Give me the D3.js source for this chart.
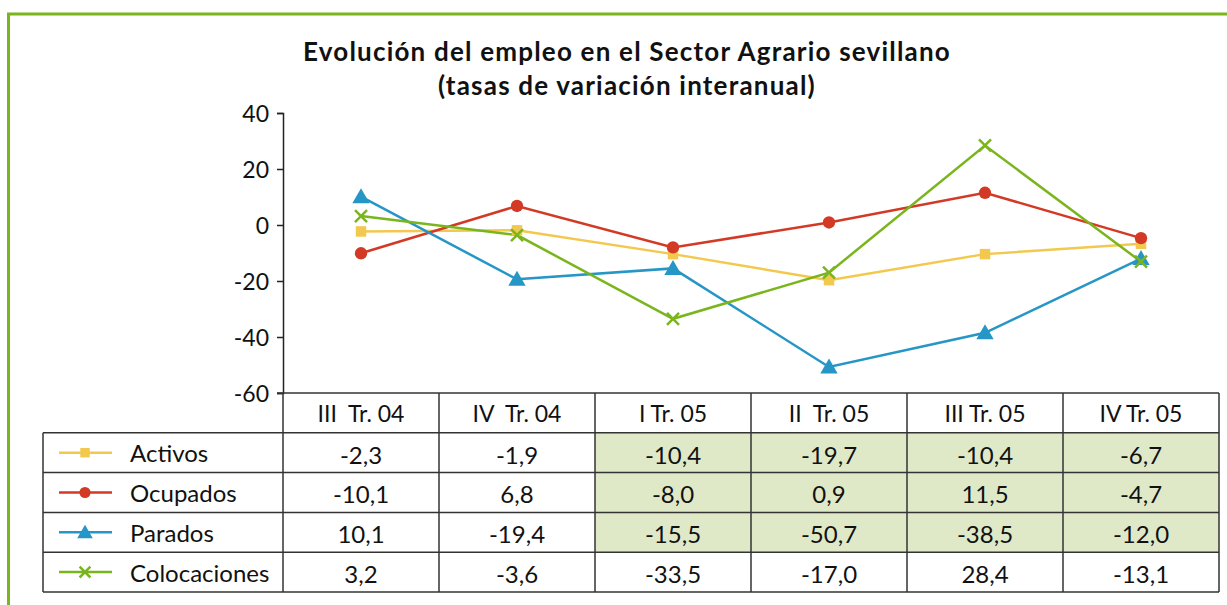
<!DOCTYPE html>
<html>
<head>
<meta charset="utf-8"/>
<title>Evolución del empleo en el Sector Agrario sevillano</title>
<style>
  body, html {margin:0; padding:0; background:#fff; overflow:hidden;}
  svg text {font-family: "Lato", "Open Sans", sans-serif; fill:#111;}
</style>
<script src="https://cdn.jsdelivr.net/npm/d3@7/dist/d3.min.js"></script>
</head>
<body>
<svg id="chart" width="1227" height="605"></svg>
<script>
// datos
var periodos = ["III  Tr. 04", "IV  Tr. 04", "I Tr. 05", "II  Tr. 05", "III Tr. 05", "IV Tr. 05"];
var activos = [-2.3, -1.9, -10.4, -19.7, -10.4, -6.7];
var ocupados = [-10.1, 6.8, -8.0, 0.9, 11.5, -4.7];
var parados = [10.1, -19.4, -15.5, -50.7, -38.5, -12.0];
var colocaciones = [3.2, -3.6, -33.5, -17.0, 28.4, -13.1];
var yTicks = [40, 20, 0, -20, -40, -60];

var series = [
  {name: "Activos", values: activos, color: "#f2c94e", symbol: d3.symbolSquare, size: 110},
  {name: "Ocupados", values: ocupados, color: "#d33a25", symbol: d3.symbolCircle, size: 120},
  {name: "Parados", values: parados, color: "#2596c6", symbol: d3.symbolTriangle, size: 130},
  {name: "Colocaciones", values: colocaciones, color: "#7ab51d", symbol: "x", size: 0}
];
var verdes = [2, 3, 4, 5]; // columnas sombreadas (filas 0..2)

var svg = d3.select("#chart");

// marco verde
svg.append("path")
  .attr("d", "M8.5,620 V14 H1240")
  .attr("fill", "none").attr("stroke", "#7ab51d").attr("stroke-width", 3);

// titulo
svg.append("text").attr("x", 627).attr("y", 61).attr("text-anchor", "middle")
  .attr("font-size", 26).attr("font-weight", "bold").attr("letter-spacing", 1.2)
  .text("Evolución del empleo en el Sector Agrario sevillano");
svg.append("text").attr("x", 627).attr("y", 95).attr("text-anchor", "middle")
  .attr("font-size", 26).attr("font-weight", "bold").attr("letter-spacing", 1.2)
  .text("(tasas de variación interanual)");

var mLeft = 283, mRight = 1219, mTop = 113, mBottom = 393;
var x = d3.scaleBand().domain(periodos).range([mLeft, mRight]);
var y = d3.scaleLinear().domain([-60, 40]).range([mBottom, mTop]);

// eje y
var yAxis = svg.append("g").attr("transform", "translate(" + mLeft + ",0)")
  .call(d3.axisLeft(y).tickValues(yTicks).tickSize(6).tickPadding(8).tickFormat(function(d){ return d < 0 ? "-" + Math.abs(d) : d; }));
yAxis.select(".domain").attr("stroke", "#222").attr("stroke-width", 1.5);
yAxis.selectAll(".tick line").attr("stroke", "#222").attr("stroke-width", 1.5);
yAxis.selectAll("text").attr("font-size", 23).attr("font-family", "Lato, sans-serif").attr("fill", "#111").attr("dy", "0.35em");

// tabla
var rowH = 39.8;
var tabTop = mBottom, tabLeft = 43;
var g = svg.append("g");

// sombreado
series.forEach(function(s, i) {
  if (i > 2) return;
  verdes.forEach(function(c) {
    g.append("rect").attr("x", x(periodos[c])).attr("y", tabTop + rowH * (i + 1))
      .attr("width", x.bandwidth()).attr("height", rowH).attr("fill", "#dfe9c8");
  });
});

// cabecera
periodos.forEach(function(p) {
  g.append("text").attr("x", x(p) + x.bandwidth() / 2).attr("y", tabTop + rowH / 2)
    .attr("dy", "0.4em").attr("text-anchor", "middle").attr("font-size", 23)
    .attr("xml:space", "preserve").style("white-space", "pre").text(p);
});

var fmt = function(v) { return d3.format(".1f")(v).replace(".", ",").replace("−", "-"); };

series.forEach(function(s, i) {
  var cy = tabTop + rowH * (i + 1.5);
  s.values.forEach(function(v, j) {
    g.append("text").attr("x", x(periodos[j]) + x.bandwidth() / 2).attr("y", cy)
      .attr("dy", "0.45em").attr("text-anchor", "middle").attr("font-size", 24).text(fmt(v));
  });
  // leyenda
  g.append("line").attr("x1", 59).attr("x2", 112).attr("y1", cy).attr("y2", cy)
    .attr("stroke", s.color).attr("stroke-width", 2.5);
  drawMarker(g, s, 85, cy, 0.9);
  g.append("text").attr("x", 130).attr("y", cy).attr("dy", "0.4em").attr("font-size", 24).text(s.name);
});

// lineas de la tabla
var lc = "#333", lw = 1.5;
g.append("line").attr("x1", mLeft - 6).attr("x2", mRight).attr("y1", tabTop).attr("y2", tabTop).attr("stroke", lc).attr("stroke-width", lw);
for (var r = 1; r <= 5; r++) {
  g.append("line").attr("x1", tabLeft).attr("x2", mRight).attr("y1", tabTop + rowH * r).attr("y2", tabTop + rowH * r)
    .attr("stroke", lc).attr("stroke-width", lw);
}
g.append("line").attr("x1", tabLeft).attr("x2", tabLeft).attr("y1", tabTop + rowH).attr("y2", tabTop + rowH * 5).attr("stroke", lc).attr("stroke-width", lw);
periodos.forEach(function(p, j) {
  g.append("line").attr("x1", x(p)).attr("x2", x(p)).attr("y1", tabTop).attr("y2", tabTop + rowH * 5).attr("stroke", lc).attr("stroke-width", lw);
});
g.append("line").attr("x1", mRight).attr("x2", mRight).attr("y1", tabTop).attr("y2", tabTop + rowH * 5).attr("stroke", lc).attr("stroke-width", lw);

// series
var line = d3.line().x(function(d, i){ return x(periodos[i]) + x.bandwidth() / 2; }).y(function(d){ return y(d); });
series.forEach(function(s) {
  svg.append("path").datum(s.values).attr("d", line).attr("fill", "none")
    .attr("stroke", s.color).attr("stroke-width", 2.5);
});
series.forEach(function(s) {
  s.values.forEach(function(v, i) {
    drawMarker(svg, s, x(periodos[i]) + x.bandwidth() / 2, y(v), 1);
  });
});

function drawMarker(parent, s, cx, cy, k) {
  if (s.symbol === "x") {
    var h = 6 * k;
    parent.append("path").attr("d", "M" + (cx - h) + "," + (cy - h) + "L" + (cx + h) + "," + (cy + h) + "M" + (cx - h) + "," + (cy + h) + "L" + (cx + h) + "," + (cy - h))
      .attr("stroke", s.color).attr("stroke-width", 2.5).attr("fill", "none");
  } else {
    var dy = s.symbol === d3.symbolTriangle ? 1.5 : 0;
    parent.append("path").attr("d", d3.symbol().type(s.symbol).size(s.size * k * k)())
      .attr("transform", "translate(" + cx + "," + (cy + dy) + ")").attr("fill", s.color);
  }
}
</script>
</body>
</html>
